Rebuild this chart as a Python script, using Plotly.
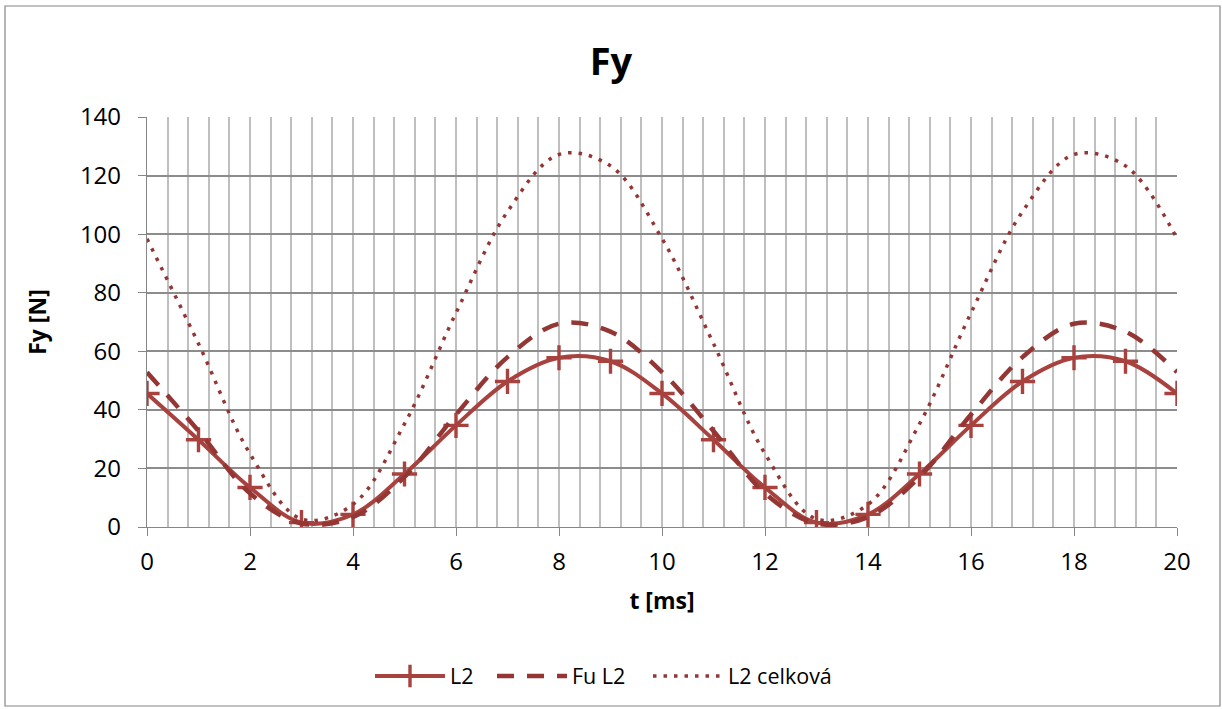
import plotly.graph_objects as go

# ---- data ----
t_ms = list(range(0, 21))
l2 = [45.6, 29.8, 13.5, 1.5, 4.3, 18.1, 34.7, 49.7, 57.8, 56.6,
      45.6, 29.8, 13.5, 1.5, 4.3, 18.1, 34.7, 49.7, 57.8, 56.6, 45.6]
fu_l2 = [52.8, 32.8, 11.5, 1.2, 3.4, 17.1, 38.4, 58.0, 69.4, 66.7,
         52.9, 32.8, 11.5, 1.2, 3.4, 17.1, 38.4, 58.0, 69.4, 66.7, 52.9]
l2_celkova = [98.4, 62.6, 25.0, 2.7, 7.7, 35.2, 73.1, 107.7, 127.2, 123.3,
              98.5, 62.6, 25.0, 2.7, 7.7, 35.2, 73.1, 107.7, 127.2, 123.3, 98.5]
series_names = ["L2", "Fu L2", "L2 celková"]
x_ticks = list(range(0, 21, 2))
y_ticks = list(range(0, 141, 20))

FONT = "Open Sans"
C_SOLID = "#A8423E"
C_DARK = "#943634"

W, H = 1222, 709
L, R, T, B = 147, 45, 117, 182
pw, ph = W - L - R, H - T - B


def px_to_paper_x(px):
    return (px - L) / pw


def px_to_paper_y(py):
    return (H - B - py) / ph


fig = go.Figure()
fig.add_trace(go.Scatter(
    x=t_ms, y=l2, name=series_names[0], mode="lines+markers", legend="legend",
    line=dict(color=C_SOLID, width=4, shape="spline", smoothing=1),
    marker=dict(symbol="cross-thin", size=18, line=dict(color=C_SOLID, width=3.4), color=C_SOLID),
))
fig.add_trace(go.Scatter(
    x=t_ms, y=fu_l2, name=series_names[1], mode="lines", legend="legend2",
    line=dict(color=C_DARK, width=4.5, shape="spline", smoothing=1, dash="17px,13px"),
))
fig.add_trace(go.Scatter(
    x=t_ms, y=l2_celkova, name=series_names[2], mode="lines", legend="legend3",
    line=dict(color=C_DARK, width=3.5, shape="spline", smoothing=1, dash="3.5px,7px"),
))

legend_common = dict(orientation="h", yanchor="middle", y=px_to_paper_y(676),
                     xanchor="left", font=dict(family=FONT, size=21.5, color="black"),
                     itemwidth=70, bgcolor="rgba(0,0,0,0)", borderwidth=0)

fig.update_layout(
    width=W, height=H,
    margin=dict(l=L, r=R, t=T, b=B),
    paper_bgcolor="white", plot_bgcolor="white",
    font=dict(family=FONT, color="black"),
    title=dict(text="<b>Fy</b>", x=0.5, xref="container", xanchor="center",
               y=1 - 62 / H, yref="container", yanchor="middle",
               font=dict(family=FONT, size=38, color="black")),
    showlegend=True,
    legend=dict(x=px_to_paper_x(370), **legend_common),
    legend2=dict(x=px_to_paper_x(492), **legend_common),
    legend3=dict(x=px_to_paper_x(648), **legend_common),
    shapes=[dict(type="rect", xref="paper", yref="paper",
                 x0=px_to_paper_x(5), x1=px_to_paper_x(1220),
                 y0=px_to_paper_y(706), y1=px_to_paper_y(6),
                 line=dict(color="#868686", width=1.2), fillcolor="rgba(0,0,0,0)",
                 layer="below")],
)

fig.update_xaxes(
    range=[0, 20], tickmode="array", tickvals=x_ticks,
    ticks="outside", ticklen=8, tickwidth=1.3, tickcolor="#868686",
    showline=True, linecolor="#868686", linewidth=1.3,
    showgrid=True, gridcolor="#BFBFBF", gridwidth=1.5,
    minor=dict(dtick=0.4, tick0=0, showgrid=True, gridcolor="#BFBFBF", gridwidth=1.5, ticks=""),
    zeroline=False,
    tickfont=dict(family=FONT, size=24, color="black"),
    ticklabelstandoff=5,
    title=dict(text="<b>t [ms]</b>", font=dict(family=FONT, size=23, color="black"), standoff=16),
)
fig.update_yaxes(
    range=[0, 140], tickmode="array", tickvals=y_ticks,
    ticks="outside", ticklen=8, tickwidth=1.3, tickcolor="#868686",
    showline=True, linecolor="#868686", linewidth=1.3,
    showgrid=True, gridcolor="#8C8C8C", gridwidth=1.5,
    zeroline=False,
    tickfont=dict(family=FONT, size=24, color="black"),
    ticklabelstandoff=12,
    title=dict(text="<b>Fy [N]</b>", font=dict(family=FONT, size=23, color="black"), standoff=26),
)

fig.write_html("out.html", config={"displayModeBar": False},
               post_script="document.body.style.margin='0';")
